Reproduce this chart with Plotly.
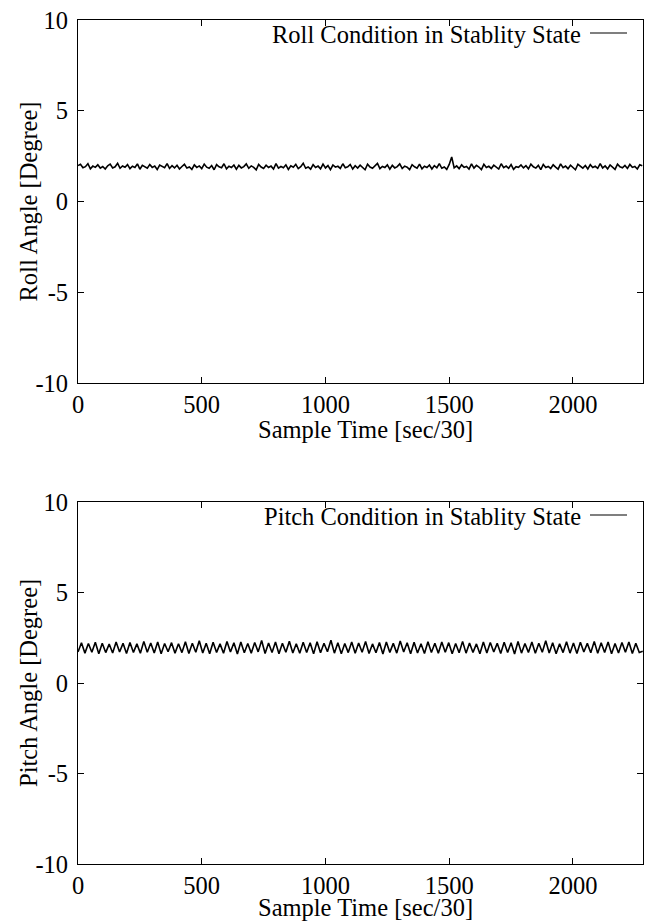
import plotly.graph_objects as go
from plotly.subplots import make_subplots

# sample spacing of the read-off points (samples)
roll_step = 10
pitch_step = 14

roll_deg = [
    1.98, 2.05, 1.86, 1.92, 2.08, 1.80, 1.95, 1.88, 2.02, 1.84,
    1.93, 1.79, 1.97, 2.06, 1.85, 1.91, 2.10, 1.83, 1.96, 1.89,
    2.03, 1.81, 1.94, 1.87, 2.07, 1.78, 1.99, 1.90, 1.84, 2.04,
    1.88, 1.95, 1.76, 2.01, 1.92, 1.86, 2.09, 1.82, 1.97, 1.85,
    2.00, 1.79, 1.93, 2.05, 1.84, 1.90, 1.77, 2.02, 1.88, 1.96,
    1.81, 2.06, 1.89, 1.83, 1.98, 1.75, 2.03, 1.91, 1.86, 2.08,
    1.80, 1.94, 1.87, 2.01, 1.78, 1.99, 1.85, 1.92, 2.07, 1.83,
    1.96, 1.88, 1.74, 2.04, 1.90, 1.82, 2.00, 1.87, 1.95, 1.79,
    2.09, 1.84, 1.93, 1.86, 2.02, 1.77, 1.97, 1.89, 2.05, 1.81,
    1.92, 2.11, 1.83, 1.90, 1.78, 2.03, 1.87, 1.95, 1.80, 2.06,
    1.85, 1.98, 1.76, 2.01, 1.89, 1.94, 1.82, 2.08, 1.86, 1.91,
    2.04, 1.79, 1.97, 1.84, 2.00, 1.88, 1.75, 2.05, 1.90, 1.83,
    1.96, 2.10, 1.81, 1.93, 1.87, 2.02, 1.78, 1.99, 1.85, 1.92,
    2.07, 1.82, 1.95, 1.89, 1.76, 2.03, 1.91, 1.84, 2.06, 1.80,
    1.94, 1.87, 2.01, 1.79, 1.98, 1.86, 2.09, 1.83, 1.90, 1.77,
    2.04, 2.45, 1.85, 1.96, 1.81, 2.02, 1.88, 1.93, 1.78, 2.07,
    1.84, 1.99, 1.90, 1.76, 2.05, 1.87, 1.94, 1.82, 2.00, 1.89,
    1.79, 2.08, 1.86, 1.95, 1.83, 2.03, 1.77, 1.92, 1.88, 2.01,
    1.85, 1.97, 1.80, 2.06, 1.91, 1.84, 1.99, 1.76, 2.04, 1.87,
    1.93, 1.82, 2.02, 1.89, 1.78, 2.07, 1.86, 1.95, 1.81, 2.00,
    1.88, 1.75, 2.05, 1.92, 1.84, 1.98, 1.79, 2.03, 1.87, 1.94,
    1.83, 2.09, 1.85, 1.96, 1.80, 2.01, 1.89, 1.77, 2.06, 1.91,
    1.86, 1.99, 1.82, 2.04, 1.88, 1.93, 1.79, 2.02, 1.97,
]

pitch_deg = [
    1.72, 2.22, 1.65, 2.18, 1.70, 2.25, 1.62, 2.20, 1.68, 2.15,
    1.66, 2.27, 1.71, 2.19, 1.63, 2.24, 1.69, 2.16, 1.64, 2.30,
    1.70, 2.21, 1.66, 2.26, 1.61, 2.18, 1.73, 2.23, 1.65, 2.17,
    1.68, 2.28, 1.63, 2.20, 1.70, 2.33, 1.66, 2.19, 1.62, 2.25,
    1.69, 2.16, 1.64, 2.29, 1.71, 2.22, 1.60, 2.26, 1.67, 2.18,
    1.65, 2.24, 1.72, 2.35, 1.63, 2.21, 1.68, 2.27, 1.62, 2.19,
    1.70, 2.31, 1.66, 2.17, 1.64, 2.25, 1.69, 2.22, 1.61, 2.28,
    1.67, 2.20, 1.73, 2.36, 1.65, 2.23, 1.62, 2.18, 1.68, 2.26,
    1.64, 2.21, 1.70, 2.29, 1.63, 2.16, 1.67, 2.24, 1.60, 2.27,
    1.69, 2.19, 1.65, 2.32, 1.71, 2.22, 1.62, 2.25, 1.66, 2.17,
    1.63, 2.28, 1.68, 2.20, 1.64, 2.26, 1.70, 2.23, 1.61, 2.18,
    1.67, 2.30, 1.65, 2.21, 1.69, 2.16, 1.62, 2.27, 1.66, 2.24,
    1.71, 2.19, 1.63, 2.25, 1.68, 2.22, 1.60, 2.29, 1.65, 2.18,
    1.69, 2.26, 1.64, 2.20, 1.70, 2.33, 1.66, 2.23, 1.62, 2.17,
    1.68, 2.28, 1.65, 2.21, 1.63, 2.25, 1.71, 2.19, 1.67, 2.30,
    1.64, 2.22, 1.69, 2.26, 1.61, 2.18, 1.66, 2.24, 1.70, 2.27,
    1.63, 2.20, 1.68, 1.75,
]

roll_t = [i * roll_step for i in range(len(roll_deg))]
pitch_t = [i * pitch_step for i in range(len(pitch_deg))]

x_ticks = [0, 500, 1000, 1500, 2000]
y_ticks = [-10, -5, 0, 5, 10]
y_ticktext = ["-10", "-5", "0", "5", "10"]
x_max = 2283

FONT = "Liberation Serif"
FS = 24.5
# the page body has an 8px margin, so the figure is 8px smaller than the window
OFF = 8
W, H = 652 - OFF, 923 - OFF


def px(x):
    return (x - OFF) / W


def py(y):
    return 1 - (y - OFF) / H


fig = make_subplots(rows=2, cols=1)
fig.add_trace(go.Scatter(x=roll_t, y=roll_deg, mode="lines",
                         line=dict(color="black", width=1.6)), row=1, col=1)
fig.add_trace(go.Scatter(x=pitch_t, y=pitch_deg, mode="lines",
                         line=dict(color="black", width=1.6)), row=2, col=1)

x_dom = [px(78), px(643)]
# pixel rows of the two plot boxes in the window (top, bottom)
boxes = [(20, 383), (502, 864)]
# centre of the x title below each box
xtitle_gap = [46, 43]

axis_style = dict(showgrid=False, zeroline=False, showline=True, linecolor="black",
                  linewidth=1, mirror="ticks", ticks="inside", ticklen=6,
                  tickcolor="black", automargin=False, ticklabeloverflow="allow",
                  tickfont=dict(family=FONT, size=FS, color="black"))

for i, (top, bot) in enumerate(boxes, start=1):
    fig.update_xaxes(domain=x_dom, range=[0, x_max], tickvals=x_ticks,
                     ticklabelstandoff=0, **axis_style, row=i, col=1)
    fig.update_yaxes(domain=[py(bot), py(top)], range=[-10, 10], tickvals=y_ticks,
                     ticktext=y_ticktext, ticklabelstandoff=4, **axis_style, row=i, col=1)

titles = [("Roll Angle [Degree]", "Roll Condition in Stablity State"),
          ("Pitch Angle [Degree]", "Pitch Condition in Stablity State")]

for (ytitle, key), (top, bot), gap in zip(titles, boxes, xtitle_gap):
    fig.add_annotation(text=ytitle, textangle=-90, xref="paper", yref="paper",
                       x=px(28), y=py((top + bot) / 2), showarrow=False,
                       xanchor="center", yanchor="middle",
                       font=dict(family=FONT, size=FS, color="black"))
    fig.add_annotation(text="Sample Time [sec/30]", xref="paper", yref="paper",
                       x=px(365), y=py(bot + gap), showarrow=False,
                       xanchor="center", yanchor="middle",
                       font=dict(family=FONT, size=FS, color="black"))
    # legend entry, gnuplot style: text then line sample on the right
    fig.add_annotation(text=key, xref="paper", yref="paper",
                       x=px(583), y=py(top + 14), showarrow=False,
                       xanchor="right", yanchor="middle",
                       font=dict(family=FONT, size=FS, color="black"))
    fig.add_shape(type="line", xref="paper", yref="paper",
                  x0=px(590), x1=px(627), y0=py(top + 13), y1=py(top + 13),
                  line=dict(color="black", width=1.2))

fig.update_layout(width=W, height=H, margin=dict(l=0, r=0, t=0, b=0),
                  paper_bgcolor="white", plot_bgcolor="white", showlegend=False)

fig.write_html("out.html")
